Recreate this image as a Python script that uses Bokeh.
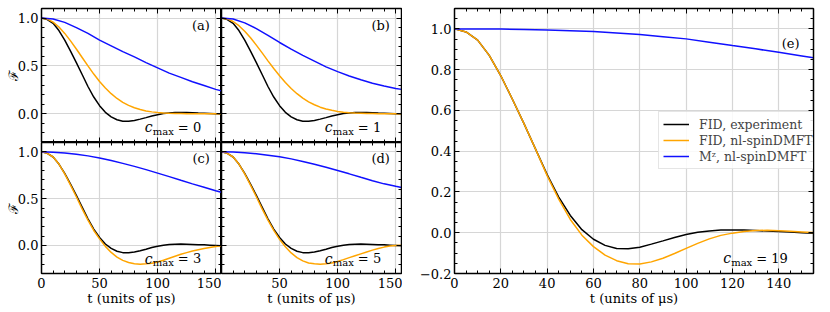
from bokeh.plotting import figure
from bokeh.models import FixedTicker, LinearAxis, Label, Legend, LegendItem, Range1d
from bokeh.layouts import row, column
from bokeh.embed import file_html
from bokeh.resources import INLINE

# ---------------- data ----------------
t = [0, 5, 10, 15, 20, 25, 30, 35, 40, 45, 50, 55, 60, 65, 70, 75, 80, 85, 90, 95,
     100, 105, 110, 115, 120, 125, 130, 135, 140, 145, 150, 155]

fid_exp = [1.0, 0.985, 0.945, 0.87, 0.77, 0.655, 0.535, 0.41, 0.285, 0.175, 0.085, 0.015,
           -0.032, -0.062, -0.077, -0.079, -0.071, -0.056, -0.04, -0.023, -0.009, 0.002,
           0.009, 0.013, 0.014, 0.013, 0.011, 0.008, 0.006, 0.003, 0.0, -0.003]

fid_c0 = [1.0, 0.99, 0.958, 0.907, 0.84, 0.762, 0.677, 0.588, 0.5, 0.415, 0.338, 0.27,
          0.21, 0.16, 0.12, 0.088, 0.063, 0.044, 0.03, 0.02, 0.013, 0.008, 0.005, 0.003,
          0.002, 0.001, 0.001, 0.0, 0.0, 0.0, 0.0, 0.0]

fid_c1 = [1.0, 0.991, 0.964, 0.92, 0.863, 0.794, 0.717, 0.636, 0.553, 0.473, 0.397, 0.327,
          0.264, 0.21, 0.163, 0.125, 0.094, 0.069, 0.05, 0.036, 0.025, 0.017, 0.011, 0.007,
          0.005, 0.003, 0.002, 0.001, 0.0, 0.0, 0.0, 0.0]

fid_c3 = [1.0, 0.985, 0.945, 0.87, 0.765, 0.645, 0.52, 0.39, 0.27, 0.16, 0.07, -0.01,
          -0.075, -0.125, -0.16, -0.183, -0.196, -0.2, -0.197, -0.19, -0.177, -0.158,
          -0.137, -0.116, -0.095, -0.077, -0.06, -0.046, -0.034, -0.022, -0.011, -0.002]

fid_c5 = [1.0, 0.985, 0.945, 0.87, 0.765, 0.645, 0.52, 0.39, 0.27, 0.16, 0.065, -0.015,
          -0.08, -0.13, -0.165, -0.187, -0.197, -0.2, -0.197, -0.188, -0.172, -0.152,
          -0.13, -0.11, -0.09, -0.07, -0.05, -0.032, -0.018, -0.007, 0.0, 0.002]

fid_c19 = [1.0, 0.985, 0.945, 0.87, 0.77, 0.655, 0.535, 0.41, 0.28, 0.165, 0.065, -0.012,
           -0.068, -0.11, -0.137, -0.152, -0.153, -0.143, -0.125, -0.102, -0.077, -0.052,
           -0.03, -0.013, -0.002, 0.006, 0.011, 0.012, 0.01, 0.007, 0.004, 0.001]

t_mz = [0, 10, 20, 30, 40, 50, 60, 70, 80, 90, 100, 110, 120, 130, 140, 150, 155]

mz_c0 = [1.0, 0.99, 0.955, 0.9, 0.84, 0.77, 0.71, 0.65, 0.595, 0.535, 0.48, 0.425, 0.38,
         0.335, 0.295, 0.255, 0.24]
mz_c1 = [1.0, 0.99, 0.95, 0.89, 0.82, 0.745, 0.675, 0.61, 0.55, 0.49, 0.44, 0.395, 0.355,
         0.32, 0.29, 0.265, 0.255]
mz_c3 = [1.0, 0.997, 0.988, 0.975, 0.957, 0.935, 0.907, 0.877, 0.845, 0.81, 0.773, 0.735,
         0.696, 0.658, 0.622, 0.585, 0.568]
mz_c5 = [1.0, 0.998, 0.99, 0.98, 0.965, 0.948, 0.925, 0.898, 0.868, 0.835, 0.8, 0.765,
         0.728, 0.692, 0.658, 0.632, 0.62]
mz_c19 = [1.0, 1.0, 0.999, 0.997, 0.994, 0.991, 0.987, 0.98, 0.972, 0.962, 0.951, 0.935,
          0.918, 0.902, 0.885, 0.867, 0.858]

panel_letters = ["a", "b", "c", "d"]
panel_cmax = ["0", "1", "3", "5"]
legend_labels = ["FID, experiment", "FID, nl-spinDMFT", "M\u1dbb, nl-spinDMFT"]

left_xticks = [0, 50, 100, 150]
left_xlabels = {0: "0", 50: "50", 100: "100", 150: "150"}
left_xminor = [0, 10, 20, 30, 40, 50, 60, 70, 80, 90, 100, 110, 120, 130, 140, 150]
left_yticks = [0.0, 0.5, 1.0]
left_ylabels = {0.0: "0.0", 0.5: "0.5", 1.0: "1.0"}
left_yminor = [-0.3, -0.2, -0.1, 0.0, 0.1, 0.2, 0.3, 0.4, 0.5, 0.6, 0.7, 0.8, 0.9, 1.0, 1.1]
e_xticks = [0, 20, 40, 60, 80, 100, 120, 140]
e_xminor = [0, 5, 10, 15, 20, 25, 30, 35, 40, 45, 50, 55, 60, 65, 70, 75, 80, 85, 90, 95,
            100, 105, 110, 115, 120, 125, 130, 135, 140, 145, 150, 155]
e_yticks = [-0.2, 0.0, 0.2, 0.4, 0.6, 0.8, 1.0]
e_ylabels = {-0.2: "\u22120.2", 0.0: "0.0", 0.2: "0.2", 0.4: "0.4", 0.6: "0.6",
             0.8: "0.8", 1.0: "1.0"}
e_yminor = [-0.2, -0.15, -0.1, -0.05, 0.0, 0.05, 0.1, 0.15, 0.2, 0.25, 0.3, 0.35, 0.4, 0.45,
            0.5, 0.55, 0.6, 0.65, 0.7, 0.75, 0.8, 0.85, 0.9, 0.95, 1.0, 1.05]

# ---------------- styling ----------------
FONT = "'DejaVu Serif', serif"
FS = "13px"
BLACK = "black"
ORANGE = "#FFA500"
BLUE = "#1010FF"
GRID = "#d6d6d6"
XLABEL = "t (units of \u03bcs)"


def style_axis(ax, ticks, minor, show_labels, overrides=None, label=None,
               standoff=4, label_standoff=0):
    ax.ticker = FixedTicker(ticks=ticks, minor_ticks=minor)
    ax.axis_line_color = BLACK
    ax.axis_line_width = 1.5
    ax.major_tick_in = 5
    ax.major_tick_out = 0
    ax.minor_tick_in = 3
    ax.minor_tick_out = 0
    ax.major_tick_line_color = BLACK
    ax.minor_tick_line_color = BLACK
    ax.major_tick_line_width = 1
    ax.minor_tick_line_width = 1
    ax.major_label_text_font = FONT
    if show_labels:
        ax.major_label_text_color = BLACK
        ax.major_label_text_font_size = FS
        ax.major_label_standoff = standoff
    else:
        ax.major_label_text_color = None
        ax.major_label_text_font_size = "1px"
        ax.major_label_standoff = 0
    if overrides:
        ax.major_label_overrides = overrides
    if label:
        ax.axis_label = label
        ax.axis_label_text_font = FONT
        ax.axis_label_text_font_size = FS
        ax.axis_label_text_font_style = "normal"
        ax.axis_label_text_color = BLACK
        ax.axis_label_standoff = label_standoff


def make_fig(width, height, xr, yr, borders):
    p = figure(width=width, height=height, x_range=Range1d(*xr), y_range=Range1d(*yr),
               output_backend="svg", toolbar_location=None, title=None,
               min_border_left=borders[0], min_border_right=borders[1],
               min_border_top=borders[2], min_border_bottom=borders[3])
    p.outline_line_color = BLACK
    p.outline_line_width = 1
    p.background_fill_color = "white"
    p.border_fill_color = "white"
    p.xgrid.grid_line_color = GRID
    p.ygrid.grid_line_color = GRID
    p.xgrid.grid_line_width = 1.2
    p.ygrid.grid_line_width = 1.2
    return p


def add_frame_axes(p, xt, xm, yt, ym):
    top = LinearAxis()
    right = LinearAxis()
    p.add_layout(top, "above")
    p.add_layout(right, "right")
    style_axis(top, xt, xm, False)
    style_axis(right, yt, ym, False)


def add_cmax(p, x, y, cval, sub_dx=8, eq_dx=33):
    p.add_layout(Label(x=x, y=y, text="c", text_font=FONT, text_font_size="14px",
                       text_font_style="italic", text_baseline="middle", text_color=BLACK))
    p.add_layout(Label(x=x, y=y, x_offset=sub_dx, y_offset=-4, text="max", text_font=FONT,
                       text_font_size="10px", text_baseline="middle", text_color=BLACK))
    p.add_layout(Label(x=x, y=y, x_offset=eq_dx, text="= " + cval, text_font=FONT,
                       text_font_size=FS, text_baseline="middle", text_color=BLACK))


def add_letter(p, x, y, letter):
    p.add_layout(Label(x=x, y=y, text="(" + letter + ")", text_font=FONT, text_font_size=FS,
                       text_align="right", text_baseline="middle", text_color=BLACK))


XR = (0, 155)
YR_L = (-0.3, 1.1)

fids = [fid_c0, fid_c1, fid_c3, fid_c5]
mzs = [mz_c0, mz_c1, mz_c3, mz_c5]

d_overrides = dict(left_xlabels)
d_overrides[0] = ""

specs = [
    # width, height, borders(l, r, t, b), show_x, show_y, x overrides
    (221, 142, (41, 0, 8, 0), False, True, left_xlabels),
    (181, 142, (0, 1, 8, 0), False, False, left_xlabels),
    (221, 168, (41, 0, 0, 37), True, True, left_xlabels),
    (181, 168, (0, 1, 0, 37), True, False, d_overrides),
]

left_figs = []
for i, (w, h, b, sx, sy, xo) in enumerate(specs):
    p = make_fig(w, h, XR, YR_L, b)
    style_axis(p.xaxis[0], left_xticks, left_xminor, sx, overrides=xo,
               label=XLABEL if sx else None)
    style_axis(p.yaxis[0], left_yticks, left_yminor, sy, overrides=left_ylabels,
               label="\u2131" if sy else None, standoff=3, label_standoff=-6)
    add_frame_axes(p, left_xticks, left_xminor, left_yticks, left_yminor)
    p.line(t, fid_exp, line_color=BLACK, line_width=1.5)
    p.line(t, fids[i], line_color=ORANGE, line_width=1.5)
    p.line(t_mz, mzs[i], line_color=BLUE, line_width=1.5)
    add_letter(p, 145, 0.925, panel_letters[i])
    add_cmax(p, 89, -0.14, panel_cmax[i])
    left_figs.append(p)

pa, pb, pc, pd = left_figs

# ---------------- panel (e) ----------------
pe = make_fig(413, 310, XR, (-0.2, 1.1), (52, 2, 8, 37))
style_axis(pe.xaxis[0], e_xticks, e_xminor, True, label=XLABEL)
style_axis(pe.yaxis[0], e_yticks, e_yminor, True, overrides=e_ylabels, standoff=3)
add_frame_axes(pe, e_xticks, e_xminor, e_yticks, e_yminor)
r1 = pe.line(t, fid_exp, line_color=BLACK, line_width=1.5)
r2 = pe.line(t, fid_c19, line_color=ORANGE, line_width=1.5)
r3 = pe.line(t_mz, mz_c19, line_color=BLUE, line_width=1.5)
add_letter(pe, 149, 0.926, "e")
add_cmax(pe, 116, -0.126, "19")

legend = Legend(items=[LegendItem(label=legend_labels[0], renderers=[r1]),
                       LegendItem(label=legend_labels[1], renderers=[r2]),
                       LegendItem(label=legend_labels[2], renderers=[r3])],
                location=(204, 104))
legend.margin = 0
legend.padding = 4
legend.spacing = 0
legend.glyph_width = 26
legend.glyph_height = 16
legend.label_standoff = 10
legend.label_text_font = FONT
legend.label_text_font_size = "12.5px"
legend.label_height = 16
legend.border_line_color = "#cccccc"
legend.border_line_width = 1
legend.background_fill_alpha = 0.85
pe.add_layout(legend, "center")

layout = row(column(row(pa, pb), row(pc, pd)), pe)

open("out.html", "w").write(file_html(layout, INLINE))
